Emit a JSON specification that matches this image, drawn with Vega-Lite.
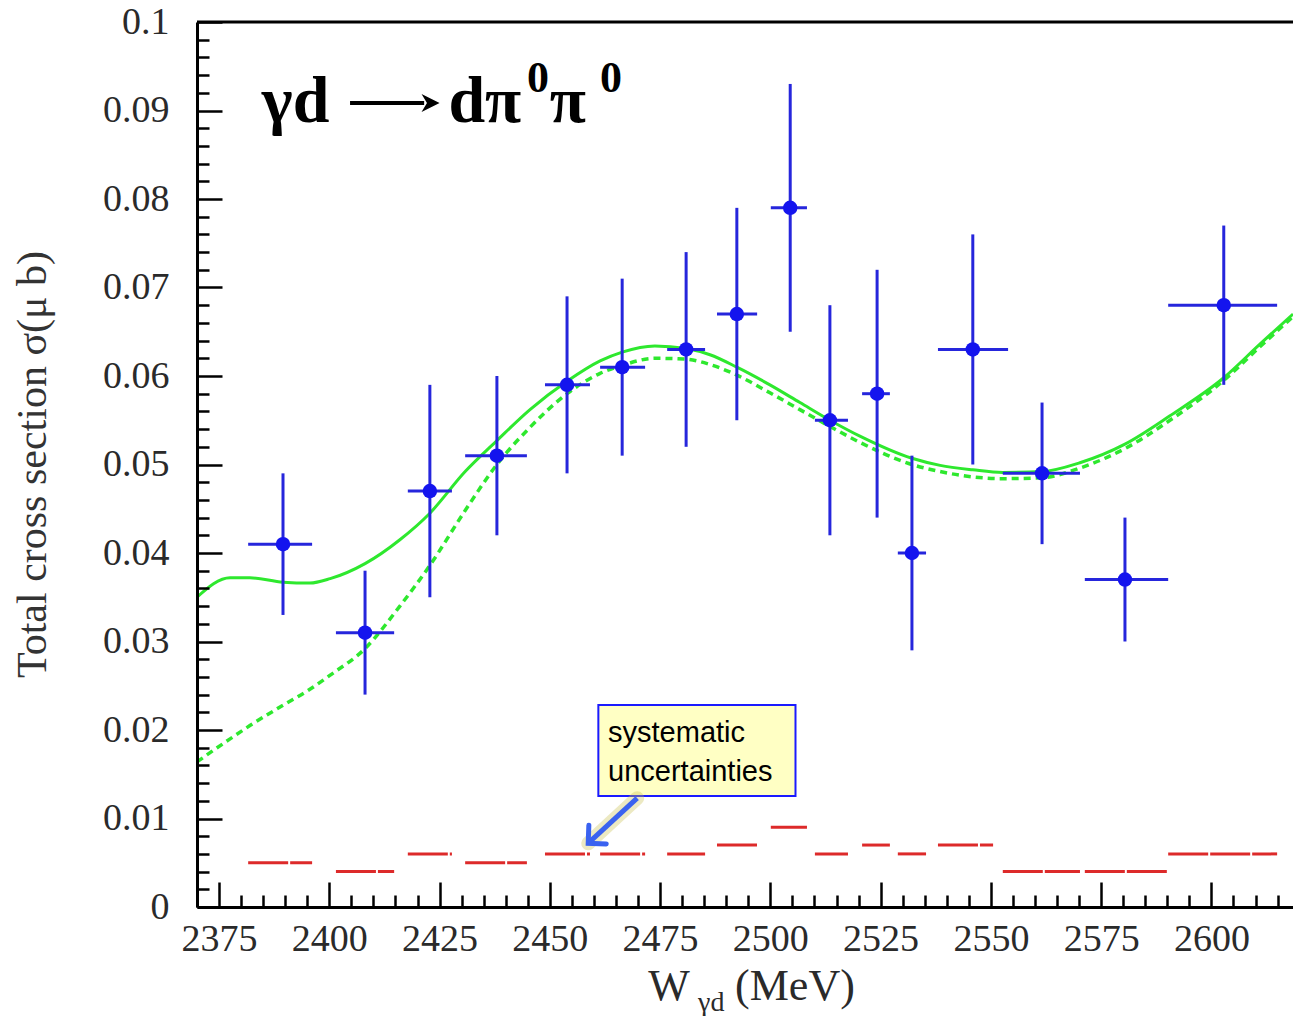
{
  "$schema": "https://vega.github.io/schema/vega-lite/v6.json",
  "width": 1096,
  "height": 885,
  "autosize": "none",
  "padding": {"left": 197, "top": 22, "right": 0, "bottom": 109},
  "background": "white",
  "datasets": {
    "points": [
      {"w": 2389.5, "wlo": 2381.6, "whi": 2396.1, "sigma": 0.041, "lo": 0.033, "hi": 0.049},
      {"w": 2408.1, "wlo": 2401.5, "whi": 2414.7, "sigma": 0.031, "lo": 0.024, "hi": 0.038},
      {"w": 2422.8, "wlo": 2417.8, "whi": 2427.8, "sigma": 0.047, "lo": 0.035, "hi": 0.059},
      {"w": 2438.0, "wlo": 2430.8, "whi": 2444.8, "sigma": 0.051, "lo": 0.042, "hi": 0.060},
      {"w": 2453.9, "wlo": 2448.9, "whi": 2459.1, "sigma": 0.059, "lo": 0.049, "hi": 0.069},
      {"w": 2466.4, "wlo": 2461.4, "whi": 2471.6, "sigma": 0.061, "lo": 0.051, "hi": 0.071},
      {"w": 2480.9, "wlo": 2476.6, "whi": 2485.2, "sigma": 0.063, "lo": 0.052, "hi": 0.074},
      {"w": 2492.4, "wlo": 2487.9, "whi": 2497.0, "sigma": 0.067, "lo": 0.055, "hi": 0.079},
      {"w": 2504.5, "wlo": 2500.1, "whi": 2508.3, "sigma": 0.079, "lo": 0.065, "hi": 0.093},
      {"w": 2513.5, "wlo": 2510.1, "whi": 2517.6, "sigma": 0.055, "lo": 0.042, "hi": 0.068},
      {"w": 2524.2, "wlo": 2520.8, "whi": 2527.1, "sigma": 0.058, "lo": 0.044, "hi": 0.072},
      {"w": 2532.1, "wlo": 2528.9, "whi": 2535.3, "sigma": 0.040, "lo": 0.029, "hi": 0.051},
      {"w": 2545.9, "wlo": 2538.0, "whi": 2553.9, "sigma": 0.063, "lo": 0.050, "hi": 0.076},
      {"w": 2561.6, "wlo": 2552.7, "whi": 2570.2, "sigma": 0.049, "lo": 0.041, "hi": 0.057},
      {"w": 2580.4, "wlo": 2571.3, "whi": 2590.2, "sigma": 0.037, "lo": 0.030, "hi": 0.044},
      {"w": 2602.8, "wlo": 2590.2, "whi": 2614.9, "sigma": 0.068, "lo": 0.059, "hi": 0.077}
    ],
    "syst": [
      {"wlo": 2381.6, "whi": 2396.1, "err": 0.005},
      {"wlo": 2401.5, "whi": 2414.7, "err": 0.004},
      {"wlo": 2417.8, "whi": 2427.8, "err": 0.006},
      {"wlo": 2430.8, "whi": 2444.8, "err": 0.005},
      {"wlo": 2448.9, "whi": 2459.1, "err": 0.006},
      {"wlo": 2461.4, "whi": 2471.6, "err": 0.006},
      {"wlo": 2476.6, "whi": 2485.2, "err": 0.006},
      {"wlo": 2487.9, "whi": 2497.0, "err": 0.007},
      {"wlo": 2500.1, "whi": 2508.3, "err": 0.009},
      {"wlo": 2510.1, "whi": 2517.6, "err": 0.006},
      {"wlo": 2520.8, "whi": 2527.1, "err": 0.007},
      {"wlo": 2528.9, "whi": 2535.3, "err": 0.006},
      {"wlo": 2538.0, "whi": 2550.5, "err": 0.007},
      {"wlo": 2552.7, "whi": 2570.2, "err": 0.004},
      {"wlo": 2571.3, "whi": 2590.2, "err": 0.004},
      {"wlo": 2590.2, "whi": 2614.9, "err": 0.006}
    ],
    "curves": [
      {"w": 2370.0, "full": 0.0350, "part": 0.0164},
      {"w": 2377.5, "full": 0.0372, "part": 0.0190},
      {"w": 2382.0, "full": 0.0372, "part": 0.0205},
      {"w": 2389.5, "full": 0.0367, "part": 0.0228},
      {"w": 2395.6, "full": 0.0366, "part": 0.0246},
      {"w": 2400.2, "full": 0.0371, "part": 0.0262},
      {"w": 2408.1, "full": 0.0388, "part": 0.0292},
      {"w": 2416.0, "full": 0.0415, "part": 0.0340},
      {"w": 2422.8, "full": 0.0445, "part": 0.0386},
      {"w": 2430.8, "full": 0.0492, "part": 0.0448},
      {"w": 2438.0, "full": 0.0527, "part": 0.0500},
      {"w": 2445.5, "full": 0.0562, "part": 0.0542},
      {"w": 2453.9, "full": 0.0594, "part": 0.0580},
      {"w": 2461.4, "full": 0.0617, "part": 0.0603},
      {"w": 2466.4, "full": 0.0627, "part": 0.0612},
      {"w": 2473.8, "full": 0.0634, "part": 0.0620},
      {"w": 2480.9, "full": 0.0631, "part": 0.0619},
      {"w": 2486.3, "full": 0.0624, "part": 0.0613},
      {"w": 2492.4, "full": 0.0610, "part": 0.0601},
      {"w": 2499.9, "full": 0.0590, "part": 0.0581},
      {"w": 2506.7, "full": 0.0570, "part": 0.0562},
      {"w": 2513.5, "full": 0.0550, "part": 0.0543},
      {"w": 2520.3, "full": 0.0532, "part": 0.0525},
      {"w": 2532.1, "full": 0.0507, "part": 0.0500},
      {"w": 2538.5, "full": 0.0499, "part": 0.0492},
      {"w": 2545.9, "full": 0.0494, "part": 0.0486},
      {"w": 2552.7, "full": 0.0491, "part": 0.0484},
      {"w": 2561.6, "full": 0.0492, "part": 0.0485},
      {"w": 2570.2, "full": 0.0502, "part": 0.0496},
      {"w": 2580.4, "full": 0.0523, "part": 0.0518},
      {"w": 2590.6, "full": 0.0555, "part": 0.0550},
      {"w": 2602.8, "full": 0.0598, "part": 0.0595},
      {"w": 2611.0, "full": 0.0636, "part": 0.0633},
      {"w": 2618.5, "full": 0.0670, "part": 0.0667}
    ],
    "one": [{}]
  },
  "layer": [
    {
      "data": {"name": "syst"},
      "mark": {"type": "rule", "color": "#dd2a2a", "strokeWidth": 3, "strokeDash": [40, 2]},
      "encoding": {
        "x": {
          "field": "wlo", "type": "quantitative",
          "scale": {"domain": [2370, 2618.5], "nice": false, "zero": false},
          "axis": {
            "orient": "bottom",
            "title": null,
            "grid": false,
            "values": [2370, 2375, 2380, 2385, 2390, 2395, 2400, 2405, 2410, 2415, 2420, 2425, 2430, 2435, 2440, 2445, 2450, 2455, 2460, 2465, 2470, 2475, 2480, 2485, 2490, 2495, 2500, 2505, 2510, 2515, 2520, 2525, 2530, 2535, 2540, 2545, 2550, 2555, 2560, 2565, 2570, 2575, 2580, 2585, 2590, 2595, 2600, 2605, 2610, 2615],
            "tickCount": 200,
            "format": "d",
            "labelExpr": "datum.value % 25 === 0 ? datum.label : ''",
            "labelOverlap": false,
            "labelFlush": false,
            "labelPadding": 38,
            "tickSize": {"condition": {"test": "datum.value % 25 === 0", "value": -25}, "value": -12},
            "zindex": 2
          }
        },
        "x2": {"field": "whi"},
        "y": {
          "field": "err", "type": "quantitative",
          "scale": {"domain": [0, 0.1], "nice": false, "zero": false},
          "axis": {
            "orient": "left",
            "title": "Total cross section σ(μ b)",
            "grid": false,
            "values": [0, 0.002, 0.004, 0.006, 0.008, 0.01, 0.012, 0.014, 0.016, 0.018, 0.02, 0.022, 0.024, 0.026, 0.028, 0.03, 0.032, 0.034, 0.036, 0.038, 0.04, 0.042, 0.044, 0.046, 0.048, 0.05, 0.052, 0.054, 0.056, 0.058, 0.06, 0.062, 0.064, 0.066, 0.068, 0.07, 0.072, 0.074, 0.076, 0.078, 0.08, 0.082, 0.084, 0.086, 0.088, 0.09, 0.092, 0.094, 0.096, 0.098, 0.1],
            "tickCount": 200,
            "labelExpr": "round(datum.value * 1000) % 10 === 0 ? format(datum.value, '~g') : ''",
            "labelOverlap": false,
            "labelFlush": false,
            "labelPadding": 53,
            "tickSize": {"condition": {"test": "round(datum.value * 1000) % 10 === 0", "value": -25}, "value": -12},
            "titleX": -165,
            "titleY": 442,
            "titleAngle": -90,
            "titleAlign": "center",
            "titleBaseline": "middle",
            "zindex": 2
          }
        }
      }
    },
    {
      "data": {"name": "curves"},
      "mark": {"type": "line", "color": "#2ee82e", "strokeWidth": 3, "interpolate": "monotone"},
      "encoding": {
        "x": {"field": "w", "type": "quantitative"},
        "y": {"field": "full", "type": "quantitative"}
      }
    },
    {
      "data": {"name": "curves"},
      "mark": {"type": "line", "color": "#2ee82e", "strokeWidth": 3.5, "strokeDash": [7, 5], "interpolate": "monotone"},
      "encoding": {
        "x": {"field": "w", "type": "quantitative"},
        "y": {"field": "part", "type": "quantitative"}
      }
    },
    {
      "data": {"name": "points"},
      "mark": {"type": "rule", "color": "#2626dc", "strokeWidth": 3},
      "encoding": {
        "x": {"field": "w", "type": "quantitative"},
        "y": {"field": "lo", "type": "quantitative"},
        "y2": {"field": "hi"}
      }
    },
    {
      "data": {"name": "points"},
      "mark": {"type": "rule", "color": "#2626dc", "strokeWidth": 3},
      "encoding": {
        "x": {"field": "wlo", "type": "quantitative"},
        "x2": {"field": "whi"},
        "y": {"field": "sigma", "type": "quantitative"}
      }
    },
    {
      "data": {"name": "points"},
      "mark": {"type": "circle", "color": "#1414ee", "opacity": 1, "size": 210},
      "encoding": {
        "x": {"field": "w", "type": "quantitative"},
        "y": {"field": "sigma", "type": "quantitative"}
      }
    },
    {
      "data": {"name": "one"},
      "mark": {"type": "rule", "color": "black", "strokeWidth": 3},
      "encoding": {"y": {"datum": 0.1, "type": "quantitative"}}
    },
    {
      "data": {"name": "one"},
      "mark": {"type": "rect", "fill": "#ffffc4", "stroke": "#1a1aff", "strokeWidth": 2},
      "encoding": {
        "x": {"datum": 2461.0, "type": "quantitative"},
        "x2": {"datum": 2505.7},
        "y": {"datum": 0.01254, "type": "quantitative"},
        "y2": {"datum": 0.02282}
      }
    },
    {
      "data": {"name": "one"},
      "mark": {"type": "text", "text": "systematic", "font": "Liberation Sans", "fontSize": 29, "align": "left", "baseline": "alphabetic", "color": "black"},
      "encoding": {
        "x": {"datum": 2463.2, "type": "quantitative"},
        "y": {"datum": 0.01864, "type": "quantitative"}
      }
    },
    {
      "data": {"name": "one"},
      "mark": {"type": "text", "text": "uncertainties", "font": "Liberation Sans", "fontSize": 29, "align": "left", "baseline": "alphabetic", "color": "black"},
      "encoding": {
        "x": {"datum": 2463.2, "type": "quantitative"},
        "y": {"datum": 0.01424, "type": "quantitative"}
      }
    },
    {
      "data": {"name": "one"},
      "mark": {"type": "rule", "color": "#c8c050", "opacity": 0.35, "strokeWidth": 14, "strokeCap": "round"},
      "encoding": {
        "x": {"datum": 2469.8, "type": "quantitative"},
        "y": {"datum": 0.0123, "type": "quantitative"},
        "x2": {"datum": 2458.7},
        "y2": {"datum": 0.0072}
      }
    },
    {
      "data": {"name": "one"},
      "mark": {"type": "rule", "color": "#3a62f0", "strokeWidth": 5},
      "encoding": {
        "x": {"datum": 2469.8, "type": "quantitative"},
        "y": {"datum": 0.0123, "type": "quantitative"},
        "x2": {"datum": 2458.9},
        "y2": {"datum": 0.0073}
      }
    },
    {
      "data": {"name": "one"},
      "mark": {"type": "point", "shape": "M-1,1L0,0L1,1", "filled": false, "stroke": "#3a62f0", "strokeWidth": 5, "strokeCap": "round", "strokeJoin": "miter", "size": 650, "angle": 227, "opacity": 1},
      "encoding": {
        "x": {"datum": 2458.7, "type": "quantitative"},
        "y": {"datum": 0.0072, "type": "quantitative"}
      }
    },
    {
      "data": {"name": "one"},
      "mark": {"type": "text", "text": "γd", "font": "Liberation Serif", "fontWeight": "bold", "fontSize": 66, "align": "left", "baseline": "alphabetic", "color": "black"},
      "encoding": {
        "x": {"datum": 2384.7, "type": "quantitative"},
        "y": {"datum": 0.0887, "type": "quantitative"}
      }
    },
    {
      "data": {"name": "one"},
      "mark": {"type": "rule", "color": "black", "strokeWidth": 4},
      "encoding": {
        "x": {"datum": 2404.7, "type": "quantitative"},
        "y": {"datum": 0.09085, "type": "quantitative"},
        "x2": {"datum": 2421.5}
      }
    },
    {
      "data": {"name": "one"},
      "mark": {"type": "point", "shape": "M0,0L-1,-0.5L-0.7,0L-1,0.5Z", "filled": true, "color": "black", "size": 1300, "opacity": 1},
      "encoding": {
        "x": {"datum": 2425.0, "type": "quantitative"},
        "y": {"datum": 0.09085, "type": "quantitative"}
      }
    },
    {
      "data": {"name": "one"},
      "mark": {"type": "text", "text": "dπ", "font": "Liberation Serif", "fontWeight": "bold", "fontSize": 66, "align": "left", "baseline": "alphabetic", "color": "black"},
      "encoding": {
        "x": {"datum": 2427.0, "type": "quantitative"},
        "y": {"datum": 0.0887, "type": "quantitative"}
      }
    },
    {
      "data": {"name": "one"},
      "mark": {"type": "text", "text": "0", "font": "Liberation Serif", "fontWeight": "bold", "fontSize": 44, "align": "left", "baseline": "alphabetic", "color": "black"},
      "encoding": {
        "x": {"datum": 2444.8, "type": "quantitative"},
        "y": {"datum": 0.0921, "type": "quantitative"}
      }
    },
    {
      "data": {"name": "one"},
      "mark": {"type": "text", "text": "π", "font": "Liberation Serif", "fontWeight": "bold", "fontSize": 66, "align": "left", "baseline": "alphabetic", "color": "black"},
      "encoding": {
        "x": {"datum": 2450.0, "type": "quantitative"},
        "y": {"datum": 0.0887, "type": "quantitative"}
      }
    },
    {
      "data": {"name": "one"},
      "mark": {"type": "text", "text": "0", "font": "Liberation Serif", "fontWeight": "bold", "fontSize": 44, "align": "left", "baseline": "alphabetic", "color": "black"},
      "encoding": {
        "x": {"datum": 2461.4, "type": "quantitative"},
        "y": {"datum": 0.0921, "type": "quantitative"}
      }
    },
    {
      "data": {"name": "one"},
      "mark": {"type": "text", "text": "W", "font": "Liberation Serif", "fontSize": 44, "align": "left", "baseline": "alphabetic", "color": "#2a2a2a"},
      "encoding": {
        "x": {"datum": 2472.3, "type": "quantitative"},
        "y": {"datum": -0.0105, "type": "quantitative"}
      }
    },
    {
      "data": {"name": "one"},
      "mark": {"type": "text", "text": "γd", "font": "Liberation Serif", "fontSize": 28, "align": "left", "baseline": "alphabetic", "color": "#2a2a2a"},
      "encoding": {
        "x": {"datum": 2483.6, "type": "quantitative"},
        "y": {"datum": -0.01175, "type": "quantitative"}
      }
    },
    {
      "data": {"name": "one"},
      "mark": {"type": "text", "text": "(MeV)", "font": "Liberation Serif", "fontSize": 44, "align": "left", "baseline": "alphabetic", "color": "#2a2a2a"},
      "encoding": {
        "x": {"datum": 2492.0, "type": "quantitative"},
        "y": {"datum": -0.0105, "type": "quantitative"}
      }
    }
  ],
  "config": {
    "view": {"stroke": null},
    "axis": {
      "domainColor": "black",
      "domainWidth": 3,
      "tickColor": "black",
      "tickWidth": 2.5,
      "labelFont": "Liberation Serif",
      "labelFontSize": 38,
      "labelColor": "#2a2a2a",
      "titleFont": "Liberation Serif",
      "titleFontSize": 42,
      "titleFontWeight": "normal",
      "titleColor": "#333333"
    }
  }
}
